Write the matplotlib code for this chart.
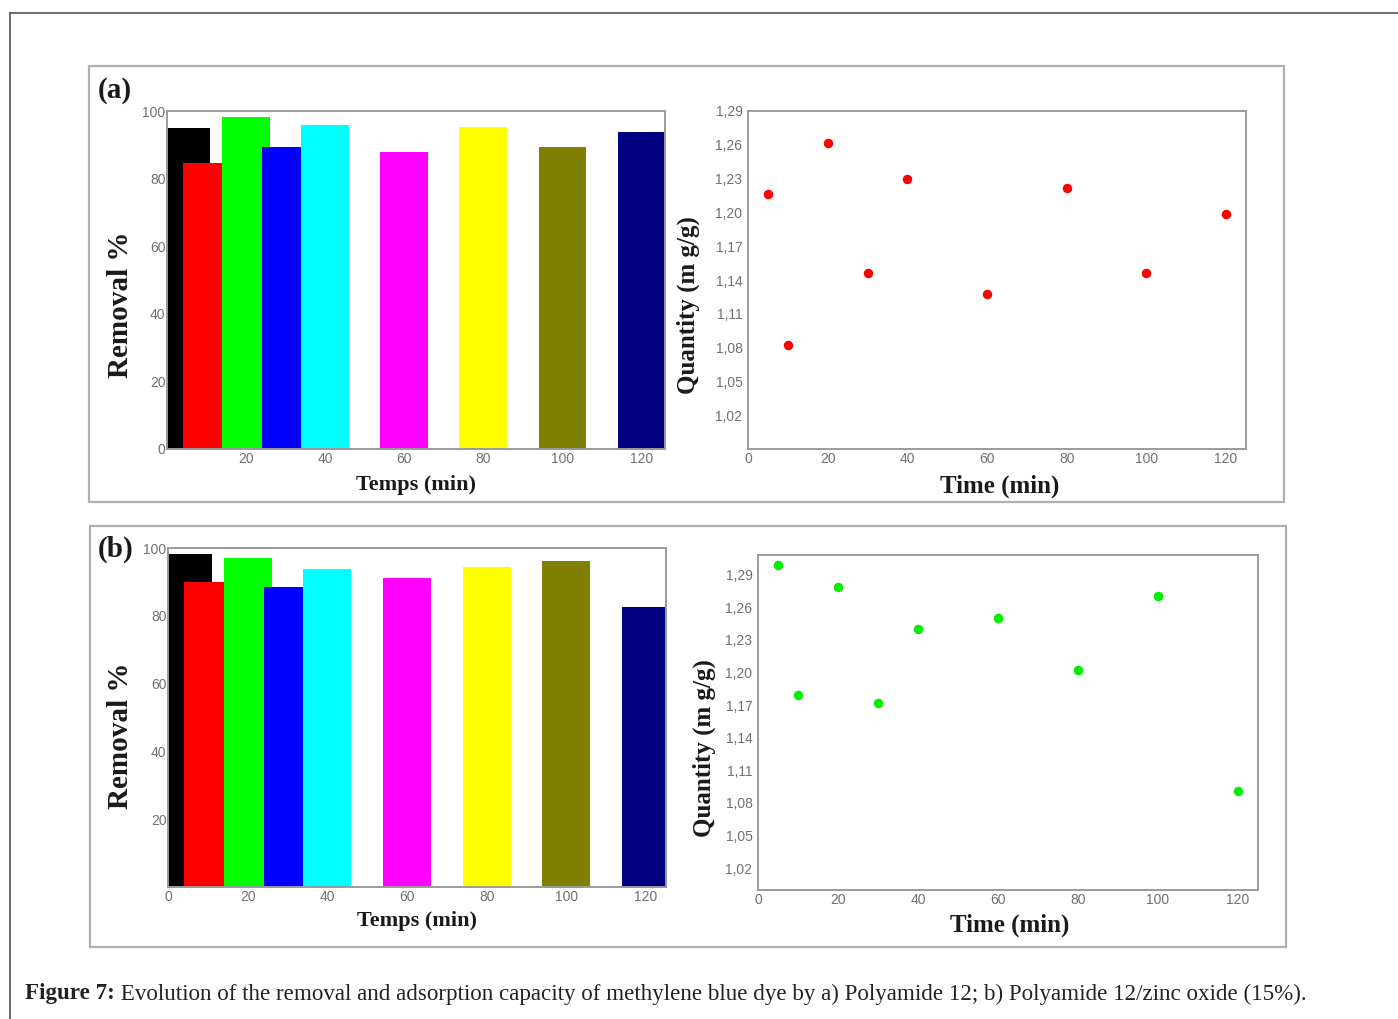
import matplotlib
matplotlib.use("Agg")
import matplotlib.pyplot as plt
from matplotlib.patches import Rectangle
from matplotlib.lines import Line2D

W, H = 1398, 1019

# data
times = [5, 10, 20, 30, 40, 60, 80, 100, 120]
bar_colors = ["#000000", "#ff0000", "#00ff00", "#0000ff", "#00ffff",
              "#ff00ff", "#ffff00", "#808000", "#000080"]
removal_a = [95.0, 84.5, 98.2, 89.3, 95.9, 87.9, 95.3, 89.3, 93.8]
removal_b = [98.2, 90.0, 97.0, 88.5, 93.8, 91.2, 94.4, 96.2, 82.6]
qty_a = [1.216, 1.082, 1.262, 1.146, 1.230, 1.128, 1.222, 1.146, 1.199]
qty_b = [1.299, 1.179, 1.279, 1.172, 1.240, 1.250, 1.2025, 1.270, 1.091]
q_ticks = [1.02, 1.05, 1.08, 1.11, 1.14, 1.17, 1.20, 1.23, 1.26, 1.29]
caption_bold = "Figure 7:"
caption_rest = (" Evolution of the removal and adsorption capacity of methylene blue dye "
                "by a) Polyamide 12; b) Polyamide 12/zinc oxide (15%).")

SERIF = ["Liberation Serif", "DejaVu Serif"]
SANS = ["Liberation Sans", "DejaVu Sans"]
TICK_C = "#707070"
SPINE_C = "#9a9a9a"


def box(x0, y0, x1, y1):
    return [x0 / W, 1 - y1 / H, (x1 - x0) / W, (y1 - y0) / H]


def fx(x):
    return x / W


def fy(y):
    return 1 - y / H


fig = plt.figure(figsize=(W / 100, H / 100), dpi=100)

# outer frame lines
fig.add_artist(Line2D([fx(10), 1], [fy(13), fy(13)], color="#555555", lw=1.2))
fig.add_artist(Line2D([fx(10), fx(10)], [fy(13), 0], color="#555555", lw=1.2))

# panel frames
for (x0, y0, x1, y1) in [(89, 66, 1284, 502), (90, 526, 1286, 947)]:
    fig.add_artist(Rectangle((fx(x0), fy(y1)), (x1 - x0) / W, (y1 - y0) / H,
                             transform=fig.transFigure, fill=False,
                             edgecolor="#b0b0b0", lw=1.6))


def style(ax):
    for s in ax.spines.values():
        s.set_color(SPINE_C)
        s.set_linewidth(1.4)
    ax.tick_params(length=0, labelsize=10, labelcolor=TICK_C, pad=2)
    for lab in ax.get_xticklabels() + ax.get_yticklabels():
        lab.set_fontfamily(SANS)


def bar_panel(rect, values, xlim, xticks, yticks):
    ax = fig.add_axes(box(*rect))
    for t, v, c in zip(times, values, bar_colors):
        ax.bar(t, v, width=12, color=c, zorder=2)
    ax.set_xlim(*xlim)
    ax.set_ylim(0, 100)
    ax.set_xticks(xticks)
    ax.set_yticks(yticks)
    style(ax)
    ax.tick_params(axis="y", pad=1)
    return ax


def scatter_panel(rect, values, color, ylim):
    ax = fig.add_axes(box(*rect))
    ax.scatter(times, values, s=34, color=color, zorder=3)
    ax.set_xlim(0, 125)
    ax.set_ylim(*ylim)
    ax.set_xticks([0, 20, 40, 60, 80, 100, 120])
    ax.set_yticks(q_ticks)
    ax.set_yticklabels([f"{v:.2f}".replace(".", ",") for v in q_ticks])
    style(ax)
    ax.tick_params(axis="y", pad=4)
    return ax


bar_panel((167, 111, 665, 449), removal_a, (0, 126),
          [20, 40, 60, 80, 100, 120], [0, 20, 40, 60, 80, 100])
scatter_panel((748, 111, 1246, 449), qty_a, "#ff0000", (0.99, 1.29))
bar_panel((168, 548, 666, 887), removal_b, (0, 125),
          [0, 20, 40, 60, 80, 100, 120], [20, 40, 60, 80, 100])
scatter_panel((758, 555, 1258, 890), qty_b, "#00ee00", (1.0, 1.308))

# axis titles and panel letters
lab_kw = dict(family=SERIF, weight="bold", color="#1a1a1a")
fig.text(fx(98), fy(91), "(a)", fontsize=21, ha="left", va="center", **lab_kw)
fig.text(fx(98), fy(549), "(b)", fontsize=21, ha="left", va="center", **lab_kw)

for ycen in (305, 736):
    fig.text(fx(120), fy(ycen), "Removal %", fontsize=21, rotation=90,
             ha="center", va="center", **lab_kw)
for xc, ycen in ((416, 485), (417, 921)):
    fig.text(fx(xc), fy(ycen), "Temps (min)", fontsize=16,
             ha="center", va="center", **lab_kw)
for xc, ycen in ((688, 305), (704, 748)):
    fig.text(fx(xc), fy(ycen), "Quantity (m g/g)", fontsize=18, rotation=90,
             ha="center", va="center", **lab_kw)
for xc, ycen in ((1000, 486), (1010, 925)):
    fig.text(fx(xc), fy(ycen), "Time (min)", fontsize=18,
             ha="center", va="center", **lab_kw)

# caption with bold lead-in
r = fig.canvas.get_renderer()
t1 = fig.text(fx(25), fy(994), caption_bold, fontsize=16.6, weight="bold",
              family=SERIF, color="#222222", ha="left", va="center")
bb = t1.get_window_extent(renderer=r)
fig.text(bb.x1 / W, fy(994), caption_rest, fontsize=16.6, family=SERIF,
         color="#222222", ha="left", va="center")

fig.savefig("out.png", dpi=100)
